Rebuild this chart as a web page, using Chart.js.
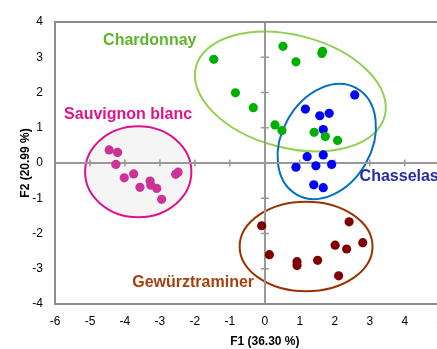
<!DOCTYPE html>
<html>
<head>
<meta charset="utf-8">
<script src="https://cdn.jsdelivr.net/npm/chart.js@4.4.1/dist/chart.umd.min.js"></script>
<style>
    html, body { margin: 0; padding: 0; background: #fff; overflow: hidden; }
    #wrap { width: 488px; height: 349px; }
</style>
</head>
<body>
<div id="wrap"><canvas id="pca" width="488" height="349"></canvas></div>
<script>
// Axis ticks
const xTickValues = [-6, -5, -4, -3, -2, -1, 0, 1, 2, 3, 4, 5, 6];
const yTickValues = [-4, -3, -2, -1, 0, 1, 2, 3, 4];

// Observations (F1, F2) per cultivar
const chardonnayX = [-1.46, -0.84, -0.33, 0.52, 0.89, 1.63, 1.65, 0.29, 0.49, 1.41, 1.73, 2.08];
const chardonnayY = [2.94, 1.99, 1.57, 3.31, 2.87, 3.11, 3.17, 1.08, 0.92, 0.87, 0.75, 0.64];

const chasselasX = [2.57, 1.16, 1.57, 1.84, 1.67, 1.21, 1.67, 0.89, 1.46, 1.91, 1.40, 1.67];
const chasselasY = [1.93, 1.53, 1.34, 1.41, 0.95, 0.18, 0.23, -0.12, -0.08, -0.04, -0.62, -0.70];

const sauvignonX = [-4.45, -4.21, -4.26, -4.02, -3.75, -3.57, -3.28, -3.26, -3.09, -2.95, -2.55, -2.48];
const sauvignonY = [0.37, 0.30, -0.04, -0.42, -0.31, -0.69, -0.51, -0.63, -0.72, -1.03, -0.32, -0.26];

const gewurzX = [-0.09, 2.41, 0.13, 2.01, 2.34, 2.80, 1.51, 0.92, 0.92, 2.11];
const gewurzY = [-1.78, -1.67, -2.60, -2.33, -2.44, -2.26, -2.76, -2.80, -2.91, -3.20];

// Group ellipses: centre, half-axes (data units), rotation in degrees
const groupNames = ['Chardonnay', 'Chasselas', 'Sauvignon blanc', 'Gewürztraminer'];
const ellipseCx = [0.73, 1.77, -3.62, 1.18];
const ellipseCy = [2.03, 0.61, -0.25, -2.37];
const ellipseRx = [2.79, 1.28, 1.52, 1.90];
const ellipseRy = [1.60, 1.73, 1.29, 1.27];
const ellipseRot = [14.6, 29.5, 0, 0];

// Group label anchors
const labelX = [-3.29, 2.71, -3.91, -2.05];
const labelY = [3.48, -0.39, 1.36, -3.39];

const pointColors = ['#00b000', '#0000ff', '#cc3399', '#800000'];
const ellipseColors = ['#92d050', '#0070c0', '#e0108c', '#993300'];
const labelColors = ['#5fb52c', '#2a2aa6', '#e0148c', '#a5400f'];
const FONT = "'Liberation Sans', Arial, sans-serif";

function toPoints(xs, ys) {
    return xs.map((x, i) => ({ x: x, y: ys[i] }));
}

const groupsPlugin = {
    id: 'groups',
    beforeDraw(chart) {
        const { ctx, scales: { x, y } } = chart;
        const ux = Math.abs(x.getPixelForValue(1) - x.getPixelForValue(0));
        const uy = Math.abs(y.getPixelForValue(1) - y.getPixelForValue(0));
        ctx.save();
        groupNames.forEach((name, i) => {
            ctx.beginPath();
            ctx.ellipse(x.getPixelForValue(ellipseCx[i]), y.getPixelForValue(ellipseCy[i]),
                ellipseRx[i] * ux, ellipseRy[i] * uy, ellipseRot[i] * Math.PI / 180, 0, Math.PI * 2);
            if (name === 'Sauvignon blanc') {
                ctx.fillStyle = '#f5f5f5';
                ctx.fill();
            }
            ctx.strokeStyle = ellipseColors[i];
            ctx.lineWidth = 2;
            ctx.stroke();
        });
        ctx.restore();
    },
    beforeDatasetsDraw(chart) {
        const { ctx, chartArea, scales: { x, y } } = chart;
        ctx.save();
        // frame
        ctx.strokeStyle = '#8c8c8c';
        ctx.lineWidth = 2;
        ctx.strokeRect(chartArea.left, chartArea.top, chartArea.right - chartArea.left, chartArea.bottom - chartArea.top);
        // tick marks across the zero lines
        ctx.strokeStyle = '#999';
        ctx.lineWidth = 1.5;
        const x0 = x.getPixelForValue(0);
        const y0 = y.getPixelForValue(0);
        xTickValues.forEach(v => {
            if (v === 0 || v === xTickValues[0]) return;
            const px = x.getPixelForValue(v);
            ctx.beginPath();
            ctx.moveTo(px, y0 - 3.5);
            ctx.lineTo(px, y0 + 3.5);
            ctx.stroke();
        });
        yTickValues.forEach(v => {
            if (v === 0 || v === yTickValues[0] || v === yTickValues[yTickValues.length - 1]) return;
            const py = y.getPixelForValue(v);
            ctx.beginPath();
            ctx.moveTo(x0 - 4, py);
            ctx.lineTo(x0 + 4, py);
            ctx.stroke();
        });
        ctx.restore();
    },
    afterDatasetsDraw(chart) {
        const { ctx, scales: { x, y } } = chart;
        ctx.save();
        ctx.font = 'bold 16px ' + FONT;
        ctx.textBaseline = 'middle';
        groupNames.forEach((name, i) => {
            ctx.fillStyle = labelColors[i];
            ctx.textAlign = name === 'Chasselas' ? 'left' : 'center';
            ctx.fillText(name, x.getPixelForValue(labelX[i]), y.getPixelForValue(labelY[i]));
        });
        ctx.restore();
    }
};

const seriesX = [chardonnayX, chasselasX, sauvignonX, gewurzX];
const seriesY = [chardonnayY, chasselasY, sauvignonY, gewurzY];

const datasets = groupNames.map((name, i) => ({
    label: name,
    data: toPoints(seriesX[i], seriesY[i]),
    backgroundColor: pointColors[i],
    borderWidth: 0,
    pointRadius: 4.6
}));

const zeroGrid = {
    color: c => (c.tick && c.tick.value === 0) ? '#999' : 'rgba(0,0,0,0)',
    lineWidth: 2,
    drawTicks: false
};

new Chart(document.getElementById('pca').getContext('2d'), {
    type: 'scatter',
    data: { datasets: datasets },
    options: {
        responsive: false,
        animation: false,
        layout: { padding: { top: 22, right: 5, bottom: 0, left: 0 } },
        plugins: {
            legend: { display: false },
            tooltip: { enabled: false }
        },
        scales: {
            x: {
                type: 'linear',
                min: xTickValues[0],
                max: xTickValues[xTickValues.length - 1],
                afterFit: s => { s.height = 45; },
                ticks: { stepSize: 1, padding: 10, color: '#000', font: { family: FONT, size: 12 } },
                grid: zeroGrid,
                border: { display: false },
                title: {
                    display: true,
                    text: 'F1 (36.30 %)',
                    color: '#000',
                    font: { family: FONT, size: 12, weight: 'bold' },
                    padding: { top: 0, bottom: 0 }
                }
            },
            y: {
                type: 'linear',
                min: yTickValues[0],
                max: yTickValues[yTickValues.length - 1],
                afterFit: s => { s.width = 55; },
                ticks: { stepSize: 1, padding: 12, color: '#000', font: { family: FONT, size: 12 } },
                grid: zeroGrid,
                border: { display: false },
                title: {
                    display: true,
                    text: 'F2 (20.99 %)',
                    color: '#000',
                    font: { family: FONT, size: 12, weight: 'bold' },
                    padding: { top: 18, bottom: 0 }
                }
            }
        }
    },
    plugins: [groupsPlugin]
});
</script>
</body>
</html>
